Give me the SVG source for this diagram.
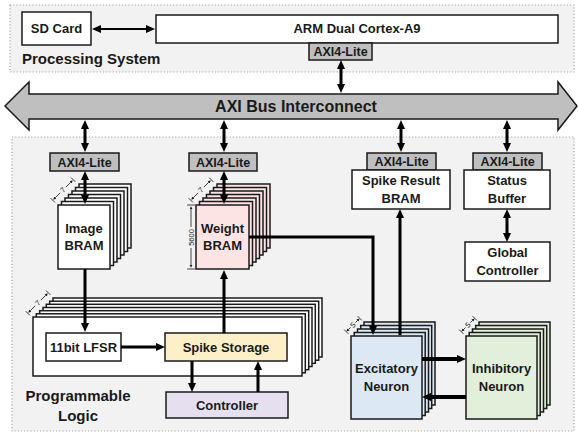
<svg xmlns="http://www.w3.org/2000/svg" width="578" height="434" viewBox="0 0 578 434">
  <style>
    text { font-family: "Liberation Sans", Arial, sans-serif; font-weight: bold; fill: #1a1a1a; text-anchor: middle; }
    .region { fill: #f2f2f2; stroke: #a6a6a6; stroke-width: 1.2; stroke-dasharray: 1.2 2; }
    .box { fill: #ffffff; stroke: #1a1a1a; stroke-width: 1.5; }
    .tag { fill: #bfbfbf; stroke: #1a1a1a; stroke-width: 1.5; }
    .lbl { font-size: 13px; }
    .tagtxt { font-size: 12.5px; }
    .big { font-size: 15px; }
    .dim { stroke: #1a1a1a; stroke-width: 0.8; fill: none; }
    .dimtxt { font-size: 7.5px; font-weight: normal; }
    .wire { fill: none; stroke: #000; stroke-width: 3; }
    .thin { stroke-width: 2; }
    .heavy { stroke-width: 4; }
  </style>
  <defs>
    <marker id="ah" markerUnits="userSpaceOnUse" markerWidth="10" markerHeight="9" refX="1" refY="4" orient="auto-start-reverse">
      <path d="M0,0 L9,4 L0,8 z" fill="#000"/>
    </marker>
    <marker id="ahs" markerUnits="userSpaceOnUse" markerWidth="4" markerHeight="4" refX="0.2" refY="1.5" orient="auto-start-reverse">
      <path d="M0,0 L3,1.5 L0,3 z" fill="#1a1a1a"/>
    </marker>
    <!-- dimension marker: |<- n ->| along +x, centered at origin -->
    <g id="dim7">
      <line class="dim" x1="-11" y1="0" x2="-4" y2="0" marker-start="url(#ahs)"/>
      <line class="dim" x1="4" y1="0" x2="11" y2="0" marker-end="url(#ahs)"/>
      <line class="dim" x1="-14.5" y1="-3" x2="-14.5" y2="3"/>
      <line class="dim" x1="14.5" y1="-3" x2="14.5" y2="3"/>
      <text class="dimtxt" x="0" y="2.5">7</text>
    </g>
    <g id="dim5">
      <line class="dim" x1="-6.5" y1="0" x2="-3.5" y2="0" marker-start="url(#ahs)"/>
      <line class="dim" x1="3.5" y1="0" x2="6.5" y2="0" marker-end="url(#ahs)"/>
      <line class="dim" x1="-9.5" y1="-3" x2="-9.5" y2="3"/>
      <line class="dim" x1="9.5" y1="-3" x2="9.5" y2="3"/>
      <text class="dimtxt" x="0" y="2.5">5</text>
    </g>
  </defs>

  <!-- regions -->
  <rect class="region" x="10" y="5" width="564" height="67"/>
  <rect class="region" x="12" y="137" width="562" height="294"/>
  <text class="big" x="22" y="64" style="text-anchor:start">Processing System</text>
  <text class="big" x="78" y="401">Programmable</text>
  <text class="big" x="78" y="421">Logic</text>

  <!-- AXI bus -->
  <g id="axi-bus">
    <polygon points="5,106 29,82 29,94 558,94 558,82 577,106 558,130 558,119 29,119 29,130" fill="#bfbfbf" stroke="#1a1a1a" stroke-width="1.5"/>
    <text x="296" y="112" style="font-size:16px">AXI Bus Interconnect</text>
  </g>

  <g id="sd-card">
    <rect class="box" x="22" y="12" width="69" height="33"/>
    <text class="lbl" x="56.5" y="33">SD Card</text>
  </g>

  <g id="arm">
    <rect class="box" x="156" y="15" width="402" height="28"/>
    <text class="lbl" x="357" y="33">ARM Dual Cortex-A9</text>
    <rect class="tag" x="309" y="43" width="63" height="17"/>
    <text class="tagtxt" x="340.5" y="56">AXI4-Lite</text>
  </g>

  <g id="image-bram">
    <rect class="tag" x="50" y="153" width="69" height="18"/>
    <text class="tagtxt" x="84.5" y="166.5">AXI4-Lite</text>
    <rect class="box" x="79" y="184" width="52" height="64"/>
    <rect class="box" x="75.5" y="187.5" width="52" height="64"/>
    <rect class="box" x="72" y="191" width="52" height="64"/>
    <rect class="box" x="68.5" y="194.5" width="52" height="64"/>
    <rect class="box" x="65" y="198" width="52" height="64"/>
    <rect class="box" x="61.5" y="201.5" width="52" height="64"/>
    <rect class="box" x="58" y="205" width="52" height="64"/>
    <text class="lbl" x="84" y="233">Image</text>
    <text class="lbl" x="84" y="250">BRAM</text>
    <use href="#dim7" transform="translate(63,190) rotate(-45)"/>
  </g>

  <g id="weight-bram">
    <rect class="tag" x="189" y="153" width="68" height="18"/>
    <text class="tagtxt" x="223" y="166.5">AXI4-Lite</text>
    <g fill="#fce4e4" stroke="#1a1a1a" stroke-width="1.5">
      <rect x="217" y="184" width="53" height="64"/>
      <rect x="213.5" y="187.5" width="53" height="64"/>
      <rect x="210" y="191" width="53" height="64"/>
      <rect x="206.5" y="194.5" width="53" height="64"/>
      <rect x="203" y="198" width="53" height="64"/>
      <rect x="199.5" y="201.5" width="53" height="64"/>
      <rect x="196" y="205" width="53" height="64"/>
    </g>
    <text class="lbl" x="222.5" y="233">Weight</text>
    <text class="lbl" x="222.5" y="250">BRAM</text>
    <use href="#dim7" transform="translate(201,190) rotate(-45)"/>
    <!-- depth: 5600 -->
    <line class="dim" x1="191" y1="209" x2="191" y2="227" marker-start="url(#ahs)"/>
    <line class="dim" x1="191" y1="248" x2="191" y2="265" marker-end="url(#ahs)"/>
    <line class="dim" x1="187" y1="205" x2="195" y2="205"/>
    <line class="dim" x1="187" y1="269" x2="195" y2="269"/>
    <text class="dimtxt" transform="translate(193.7,237.5) rotate(-90)">5600</text>
  </g>

  <g id="spike-result-bram">
    <rect class="tag" x="367" y="153" width="69" height="17"/>
    <text class="tagtxt" x="401.5" y="166">AXI4-Lite</text>
    <rect class="box" x="352" y="170" width="98" height="39"/>
    <text class="lbl" x="401" y="185">Spike Result</text>
    <text class="lbl" x="401" y="203">BRAM</text>
  </g>

  <g id="status-buffer">
    <rect class="tag" x="473" y="153" width="69" height="17"/>
    <text class="tagtxt" x="507.5" y="166">AXI4-Lite</text>
    <rect class="box" x="464" y="170" width="86" height="39"/>
    <text class="lbl" x="507" y="185">Status</text>
    <text class="lbl" x="507" y="203">Buffer</text>
  </g>

  <g id="global-controller">
    <rect class="box" x="465" y="242" width="85" height="39"/>
    <text class="lbl" x="507.5" y="257">Global</text>
    <text class="lbl" x="507.5" y="275">Controller</text>
  </g>

  <g id="spike-unit">
    <rect class="box" x="53" y="298" width="269" height="59"/>
    <rect class="box" x="49.7" y="301.2" width="269" height="59"/>
    <rect class="box" x="46.3" y="304.3" width="269" height="59"/>
    <rect class="box" x="43" y="307.5" width="269" height="59"/>
    <rect class="box" x="39.7" y="310.7" width="269" height="59"/>
    <rect class="box" x="36.3" y="313.8" width="269" height="59"/>
    <rect class="box" x="33" y="317" width="269" height="59"/>
    <use href="#dim7" transform="translate(38,303) rotate(-45)"/>
  </g>

  <g id="lfsr">
    <rect class="box" x="46" y="333" width="75" height="28"/>
    <text class="lbl" x="83.5" y="352">11bit LFSR</text>
  </g>

  <g id="spike-storage">
    <rect x="165" y="333" width="122" height="28" fill="#fdf0c8" stroke="#1a1a1a" stroke-width="1.5"/>
    <text class="lbl" x="226" y="352">Spike Storage</text>
  </g>

  <g id="controller">
    <rect x="166" y="392" width="122" height="26" fill="#e5dff0" stroke="#1a1a1a" stroke-width="1.5"/>
    <text class="lbl" x="227" y="410">Controller</text>
  </g>

  <g id="excitatory-neuron">
    <g fill="#dde8f5" stroke="#1a1a1a" stroke-width="1.5">
      <rect x="364" y="322" width="71" height="83"/>
      <rect x="360.7" y="325.5" width="71" height="83"/>
      <rect x="357.5" y="329" width="71" height="83"/>
      <rect x="354.2" y="332.5" width="71" height="83"/>
      <rect x="351" y="336" width="71" height="83"/>
    </g>
    <text class="lbl" x="386.5" y="373">Excitatory</text>
    <text class="lbl" x="386.5" y="391">Neuron</text>
    <use href="#dim5" transform="translate(353,325) rotate(-45)"/>
  </g>

  <g id="inhibitory-neuron">
    <g fill="#e2efda" stroke="#1a1a1a" stroke-width="1.5">
      <rect x="479" y="322" width="71" height="83"/>
      <rect x="475.7" y="325.5" width="71" height="83"/>
      <rect x="472.5" y="329" width="71" height="83"/>
      <rect x="469.2" y="332.5" width="71" height="83"/>
      <rect x="466" y="336" width="71" height="83"/>
    </g>
    <text class="lbl" x="501.5" y="373">Inhibitory</text>
    <text class="lbl" x="501.5" y="391">Neuron</text>
    <use href="#dim5" transform="translate(468,325) rotate(-45)"/>
  </g>

  <g id="connectors">
    <line class="wire thin" x1="100" y1="29" x2="147" y2="29" marker-start="url(#ah)" marker-end="url(#ah)"/>
    <line class="wire" x1="341" y1="68" x2="341" y2="85" marker-start="url(#ah)" marker-end="url(#ah)"/>
    <line class="wire" x1="85" y1="128" x2="85" y2="144" marker-start="url(#ah)" marker-end="url(#ah)"/>
    <line class="wire" x1="224" y1="128" x2="224" y2="144" marker-start="url(#ah)" marker-end="url(#ah)"/>
    <line class="wire" x1="401" y1="128" x2="401" y2="144" marker-start="url(#ah)" marker-end="url(#ah)"/>
    <line class="wire" x1="507" y1="128" x2="507" y2="144" marker-start="url(#ah)" marker-end="url(#ah)"/>
    <line class="wire" x1="85" y1="179" x2="85" y2="196" marker-start="url(#ah)" marker-end="url(#ah)"/>
    <line class="wire" x1="224" y1="179" x2="224" y2="196" marker-start="url(#ah)" marker-end="url(#ah)"/>
    <line class="wire" x1="507" y1="217" x2="507" y2="234" marker-start="url(#ah)" marker-end="url(#ah)"/>
    <line class="wire" x1="85" y1="269" x2="85" y2="324" marker-end="url(#ah)"/>
    <line class="wire" x1="224" y1="333" x2="224" y2="278" marker-end="url(#ah)"/>
    <path class="wire" d="M249,237 H373 V327" marker-end="url(#ah)"/>
    <line class="wire" x1="400" y1="335" x2="400" y2="217" stroke-width="3.5" marker-end="url(#ah)"/>
    <line class="wire" x1="121" y1="347" x2="157" y2="347" stroke-width="2.5" marker-end="url(#ah)"/>
    <line class="wire" x1="192" y1="361" x2="192" y2="384" marker-end="url(#ah)"/>
    <line class="wire" x1="258" y1="392" x2="258" y2="369" marker-end="url(#ah)"/>
    <line class="wire heavy" x1="422" y1="359" x2="458" y2="359" marker-end="url(#ah)"/>
    <line class="wire heavy" x1="466" y1="397" x2="430" y2="397" marker-end="url(#ah)"/>
  </g>
</svg>
